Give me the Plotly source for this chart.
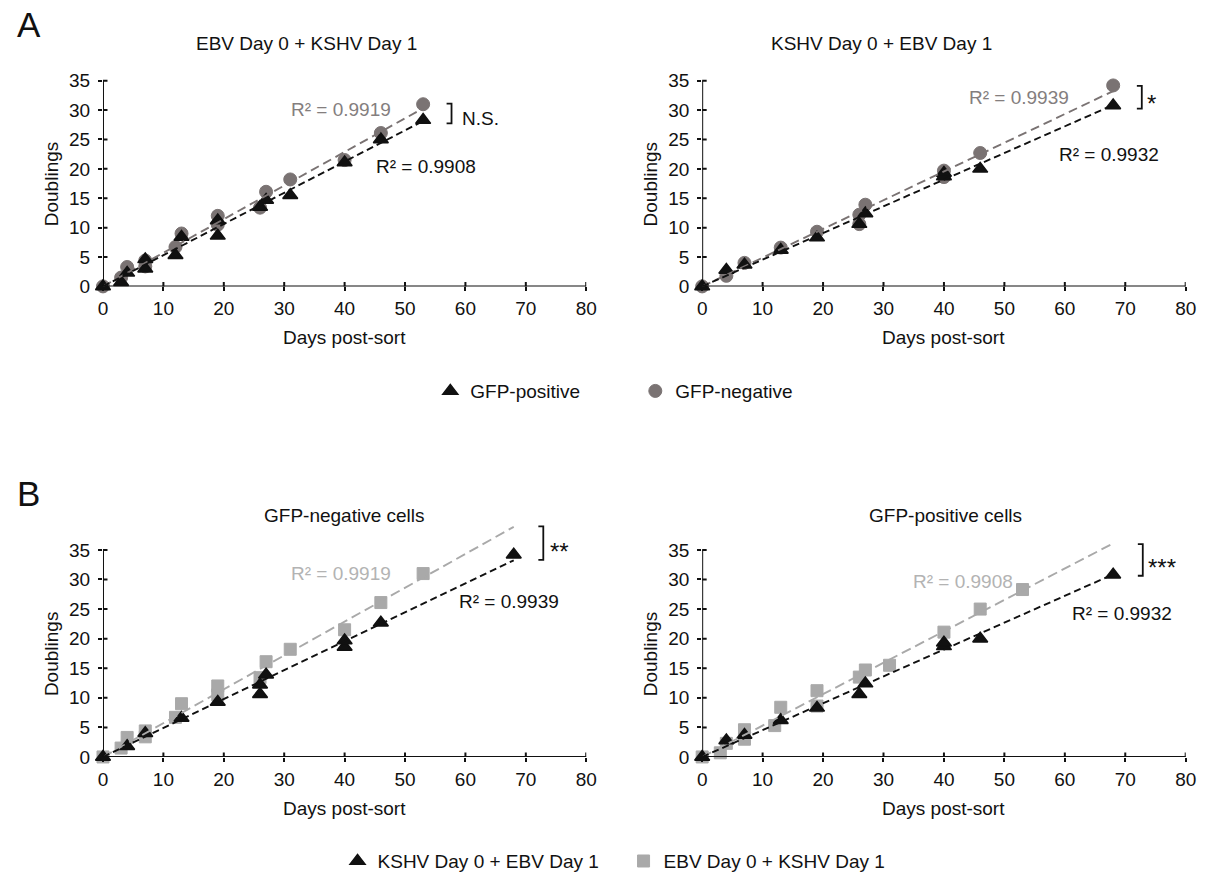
import numpy as np
import plotly.graph_objects as go

W, H = 1212, 883

# ---------------- data ----------------
# Panel A, left: EBV Day 0 + KSHV Day 1
AL_pos_x = [0, 3, 4, 7, 7, 12, 13, 19, 19, 26, 27, 31, 40, 46, 53]
AL_pos_y = [0, 0.7, 2.3, 3.0, 4.6, 5.3, 8.4, 8.6, 11.2, 13.5, 14.7, 15.5, 21.1, 25.0, 28.3]
AL_neg_x = [0, 3, 4, 7, 7, 12, 13, 19, 19, 26, 27, 31, 40, 46, 53]
AL_neg_y = [0, 1.5, 3.3, 3.4, 4.4, 6.7, 9.0, 10.5, 12.0, 13.4, 16.1, 18.2, 21.5, 26.1, 31.0]
# Panel A, right: KSHV Day 0 + EBV Day 1
AR_pos_x = [0, 4, 7, 13, 19, 26, 27, 40, 40, 46, 68]
AR_pos_y = [0, 2.8, 3.7, 6.2, 8.3, 10.6, 12.4, 18.7, 19.3, 20.0, 30.8]
AR_neg_x = [0, 4, 7, 13, 19, 26, 26, 27, 40, 40, 46, 68]
AR_neg_y = [0, 1.8, 4.0, 6.6, 9.3, 10.6, 12.2, 13.9, 18.6, 19.7, 22.7, 34.2]

R2_AL = ["R² = 0.9908", "R² = 0.9919"]   # pos, neg
R2_AR = ["R² = 0.9932", "R² = 0.9939"]
R2_BL = ["R² = 0.9939", "R² = 0.9919"]   # KSHV first, EBV first
R2_BR = ["R² = 0.9932", "R² = 0.9908"]
SIG = ["N.S.", "*", "**", "***"]

X_TICKS = [0, 10, 20, 30, 40, 50, 60, 70, 80]
Y_TICKS = [0, 5, 10, 15, 20, 25, 30, 35]

TITLES = ["EBV Day 0 + KSHV Day 1", "KSHV Day 0 + EBV Day 1",
          "GFP-negative cells", "GFP-positive cells"]
LEG_A = ["GFP-positive", "GFP-negative"]
LEG_B = ["KSHV Day 0 + EBV Day 1", "EBV Day 0 + KSHV Day 1"]

# ---------------- style ----------------
FONT = "Arial, Liberation Sans, Helvetica, sans-serif"
BLACK = "#111111"
GRAY_A = "#7a7373"
GRAY_B = "#a9a9a9"
GRAY_A_TXT = "#847e7e"
GRAY_B_TXT = "#b3b3b3"
FS = 19


def px(x):
    return x / W


def py(y):
    return 1 - y / H


# pixel geometry of the four plots (x0px, x80px, y0px, px-per-unit-y)
PLOTS = [
    (99.3, 589.0, 290.0, 5.95),
    (706.5, 1196.5, 290.0, 5.95),
    (99.3, 589.0, 766.5, 5.99),
    (706.5, 1196.5, 766.5, 5.99),
]
YMAX = 40

fig = go.Figure()
layout = dict(width=W, height=H, margin=dict(l=0, r=0, t=0, b=0),
              plot_bgcolor="white", paper_bgcolor="white",
              font=dict(family=FONT, size=FS, color=BLACK))

shapes = []
annotations = []

for i, (x0, x1, y0, s) in enumerate(PLOTS):
    k = "" if i == 0 else str(i + 1)
    top = y0 - YMAX * s
    layout["xaxis" + k] = dict(domain=[px(x0), px(x1)], range=[0, 80],
                               anchor="y" + k, showgrid=False, zeroline=False,
                               showline=False, tickvals=X_TICKS,
                               ticks="outside", ticklen=4, tickwidth=2,
                               tickcolor=BLACK, ticklabelstandoff=1,
                               tickfont=dict(size=FS, color=BLACK))
    layout["yaxis" + k] = dict(domain=[py(y0), py(top)], range=[0, YMAX],
                               anchor="x" + k, showgrid=False, zeroline=False,
                               showline=False, tickvals=Y_TICKS,
                               ticks="outside", ticklen=4, tickwidth=2,
                               tickcolor=BLACK, ticklabelstandoff=4,
                               tickfont=dict(size=FS, color=BLACK))
    xr, yr = "x" + k, "y" + k
    # axis lines
    shapes.append(dict(type="line", xref=xr, yref=yr, x0=0, x1=80, y0=0, y1=0,
                       line=dict(color=BLACK, width=2), layer="above"))
    shapes.append(dict(type="line", xref=xr, yref=yr, x0=0, x1=0, y0=0, y1=35,
                       line=dict(color=BLACK, width=2), layer="above"))
    # crossing ticks
    for t in X_TICKS[1:]:
        shapes.append(dict(type="line", xref=xr, yref=yr, x0=t, x1=t,
                           ysizemode="pixel", yanchor=0, y0=-4.5, y1=4.5,
                           line=dict(color=BLACK, width=2)))
    for t in Y_TICKS[1:]:
        shapes.append(dict(type="line", xref=xr, yref=yr, y0=t, y1=t,
                           xsizemode="pixel", xanchor=0, x0=-4.5, x1=4.5,
                           line=dict(color=BLACK, width=2)))
    # axis titles
    annotations.append(dict(text="Days post-sort", xref="paper", yref="paper",
                            x=px((x0 + x1) / 2), y=py(y0 + 52), showarrow=False,
                            xanchor="center", yanchor="middle",
                            font=dict(size=FS, color=BLACK)))
    annotations.append(dict(text="Doublings", xref="paper", yref="paper",
                            x=px(x0 - 52), y=py(y0 - 17.5 * s), showarrow=False,
                            textangle=-90, xanchor="center", yanchor="middle",
                            font=dict(size=FS, color=BLACK)))


def fit_line(xs, ys, xend):
    xs = np.asarray(xs, float)
    ys = np.asarray(ys, float)
    slope = (xs * ys).sum() / (xs * xs).sum()
    return [0, xend], [0, slope * xend]


def add_markers(xs, ys, k, symbol, color, size, name, legend, show, rank, lw=1):
    fig.add_trace(go.Scatter(x=xs, y=ys, mode="markers", name=name,
                             xaxis="x" + k, yaxis="y" + k, cliponaxis=False,
                             marker=dict(symbol=symbol, color=color, size=size,
                                         line=dict(width=lw, color=color)),
                             legend=legend, showlegend=show, legendrank=rank))


def add_fit(xs, ys, k, color, dash, xend):
    lx, ly = fit_line(xs, ys, xend)
    fig.add_trace(go.Scatter(x=lx, y=ly, mode="lines", xaxis="x" + k,
                             yaxis="y" + k, showlegend=False, hoverinfo="skip",
                             line=dict(color=color, width=1.9, dash=dash)))


TRI, CIR, SQ = 13, 13, 12

# Panel A left
k = ""
xend = max(AL_pos_x + AL_neg_x)
add_markers(AL_neg_x, AL_neg_y, k, "circle", GRAY_A, CIR, LEG_A[1], "legend", True, 2)
add_markers(AL_pos_x, AL_pos_y, k, "triangle-up", BLACK, TRI, LEG_A[0], "legend", True, 1, 1.5)
add_fit(AL_neg_x, AL_neg_y, k, GRAY_A, "9px,5px", xend)
add_fit(AL_pos_x, AL_pos_y, k, BLACK, "7px,4px", xend)

# Panel A right
k = "2"
xend = max(AR_pos_x + AR_neg_x)
add_markers(AR_neg_x, AR_neg_y, k, "circle", GRAY_A, CIR, LEG_A[1], "legend", False, 2)
add_markers(AR_pos_x, AR_pos_y, k, "triangle-up", BLACK, TRI, LEG_A[0], "legend", False, 1, 1.5)
add_fit(AR_neg_x, AR_neg_y, k, GRAY_A, "9px,5px", xend)
add_fit(AR_pos_x, AR_pos_y, k, BLACK, "7px,4px", xend)

# Panel B left: GFP-negative cells
k = "3"
xend = max(AL_neg_x + AR_neg_x)
add_markers(AL_neg_x, AL_neg_y, k, "square", GRAY_B, SQ, LEG_B[1], "legend2", True, 2)
add_markers(AR_neg_x, AR_neg_y, k, "triangle-up", BLACK, TRI, LEG_B[0], "legend2", True, 1, 1.5)
add_fit(AL_neg_x, AL_neg_y, k, GRAY_B, "10px,5px", xend)
add_fit(AR_neg_x, AR_neg_y, k, BLACK, "7px,4px", xend)

# Panel B right: GFP-positive cells
k = "4"
xend = max(AL_pos_x + AR_pos_x)
add_markers(AL_pos_x, AL_pos_y, k, "square", GRAY_B, SQ, LEG_B[1], "legend2", False, 2)
add_markers(AR_pos_x, AR_pos_y, k, "triangle-up", BLACK, TRI, LEG_B[0], "legend2", False, 1, 1.5)
add_fit(AL_pos_x, AL_pos_y, k, GRAY_B, "10px,5px", xend)
add_fit(AR_pos_x, AR_pos_y, k, BLACK, "7px,4px", xend)


def text(t, x, y, color=BLACK, size=FS, xanchor="center"):
    annotations.append(dict(text=t, xref="paper", yref="paper", x=px(x), y=py(y),
                            showarrow=False, xanchor=xanchor, yanchor="middle",
                            font=dict(size=size, color=color)))


# panel letters
text("A", 24, 25, size=35)
text("B", 24, 500, size=35)

# titles
text(TITLES[0], 306, 44)
text(TITLES[1], 888, 44)
text(TITLES[2], 344, 522)
text(TITLES[3], 953, 522)

# R² labels
text(R2_AL[1], 341, 111, color=GRAY_A_TXT)
text(R2_AL[0], 427, 169)
text(R2_AR[1], 1028, 99, color=GRAY_A_TXT)
text(R2_AR[0], 1119, 156)
text(R2_BL[1], 341, 581, color=GRAY_B_TXT)
text(R2_BL[0], 511, 609)
text(R2_BR[1], 971, 589, color=GRAY_B_TXT)
text(R2_BR[0], 1132, 621)


# significance brackets
def bracket(xr, ytop, ybot, arm=5):
    path = (f"M {px(xr - arm)},{py(ytop)} L {px(xr)},{py(ytop)} "
            f"L {px(xr)},{py(ybot)} L {px(xr - arm)},{py(ybot)}")
    shapes.append(dict(type="path", xref="paper", yref="paper", path=path,
                       line=dict(color=BLACK, width=1.8)))


bracket(452.5, 105, 125)
text(SIG[0], 461, 120, xanchor="left")
bracket(1152, 87, 110)
text(SIG[1], 1155, 105, size=24, xanchor="left")
bracket(545.5, 533, 567)
text(SIG[2], 550, 558, size=24, xanchor="left")
bracket(1153, 551, 583)
text(SIG[3], 1156, 575, size=24, xanchor="left")

layout["shapes"] = shapes
layout["annotations"] = annotations
layout["legend"] = dict(orientation="h", x=px(431), y=py(396), xanchor="left",
                        yanchor="middle", entrywidth=160, entrywidthmode="pixels",
                        font=dict(size=FS, color=BLACK), bgcolor="rgba(0,0,0,0)",
                        traceorder="normal")
layout["legend2"] = dict(orientation="h", x=px(337), y=py(872), xanchor="left",
                         yanchor="middle", entrywidth=241, entrywidthmode="pixels",
                         font=dict(size=FS, color=BLACK), bgcolor="rgba(0,0,0,0)",
                         traceorder="normal")

fig.update_layout(**layout)
fig.write_html("out.html")
